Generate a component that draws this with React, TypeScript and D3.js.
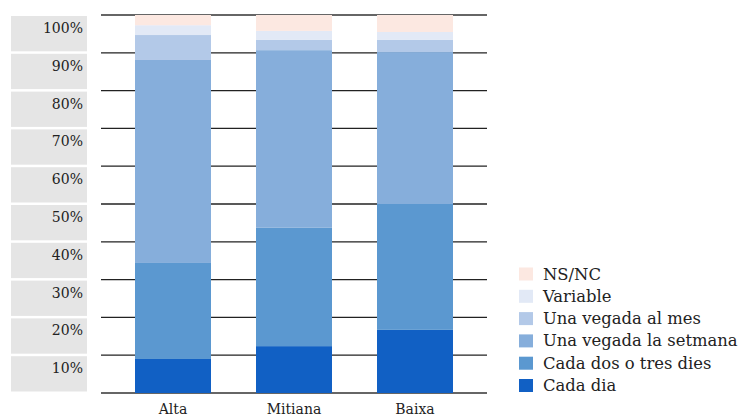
import React from "react";
import * as d3 from "d3";

const categories = ["Alta", "Mitiana", "Baixa"];
const seriesNames = [
  "Cada dia",
  "Cada dos o tres dies",
  "Una vegada la setmana",
  "Una vegada al mes",
  "Variable",
  "NS/NC",
];
const cadaDia = [9.0, 12.4, 16.7];
const cadaDos = [25.4, 31.3, 33.3];
const setmana = [53.7, 47.0, 40.2];
const alMes = [6.6, 2.7, 3.2];
const variable = [2.6, 2.4, 2.1];
const nsnc = [2.7, 4.2, 4.5];
const seriesValues = [cadaDia, cadaDos, setmana, alMes, variable, nsnc];
const colors = ["#1160C4", "#5B98D0", "#86AEDB", "#B3C9E8", "#E2E9F6", "#FCE8E1"];
const yTicks = [10, 20, 30, 40, 50, 60, 70, 80, 90, 100];

const FONT = "'DejaVu Serif', serif";

export default function App() {
  const W = 741, H = 418;
  const y = d3.scaleLinear().domain([0, 100]).range([393, 15]);
  const x = d3.scaleBand().domain(categories).range([101, 487]).paddingInner(0.372).paddingOuter(0.281);

  const rows = categories.map((c, i) => {
    const o: any = { cat: c };
    seriesNames.forEach((s, j) => (o[s] = seriesValues[j][i]));
    return o;
  });
  const stacked = d3.stack().keys(seriesNames)(rows);

  const gridVals = [0, ...yTicks];

  return (
    <svg width={W} height={H} style={{ position: "absolute", left: 0, top: 0, background: "#fff" }}>
      {yTicks.map((t) => (
        <g key={"yb" + t}>
          <rect x={11} y={y(t) + 1} width={76} height={y(t - 10) - y(t) - 2.5} fill="#E5E5E5" />
          <text x={83} y={y(t) + 18} textAnchor="end" fontFamily={FONT} fontSize={14} fill="#222">
            {t}%
          </text>
        </g>
      ))}
      {gridVals.map((t) => (
        <line
          key={"g" + t}
          x1={101}
          x2={487}
          y1={y(t)}
          y2={y(t)}
          stroke={t === 0 || t === 100 ? "#666" : "#222"}
          strokeWidth={t === 0 || t === 100 ? 2 : 1.3}
        />
      ))}
      {stacked.map((layer, j) => (
        <g key={"s" + j} fill={colors[j]}>
          {layer.map((d, i) => (
            <rect
              key={i}
              x={x(categories[i])}
              width={x.bandwidth()}
              y={y(d[1])}
              height={y(d[0]) - y(d[1])}
            />
          ))}
        </g>
      ))}
      {categories.map((c) => (
        <text
          key={"xl" + c}
          x={(x(c) as number) + x.bandwidth() / 2}
          y={414}
          textAnchor="middle"
          fontFamily={FONT}
          fontSize={14}
          fill="#222"
        >
          {c}
        </text>
      ))}
      {seriesNames
        .slice()
        .reverse()
        .map((s, k) => {
          const idx = seriesNames.length - 1 - k;
          const cy = 274 + k * 22.3;
          return (
            <g key={"l" + s}>
              <rect x={519} y={cy - 6.5} width={14} height={13} fill={colors[idx]} />
              <text x={543} y={cy + 5.5} fontFamily={FONT} fontSize={16.4} fill="#222">
                {s}
              </text>
            </g>
          );
        })}
    </svg>
  );
}
